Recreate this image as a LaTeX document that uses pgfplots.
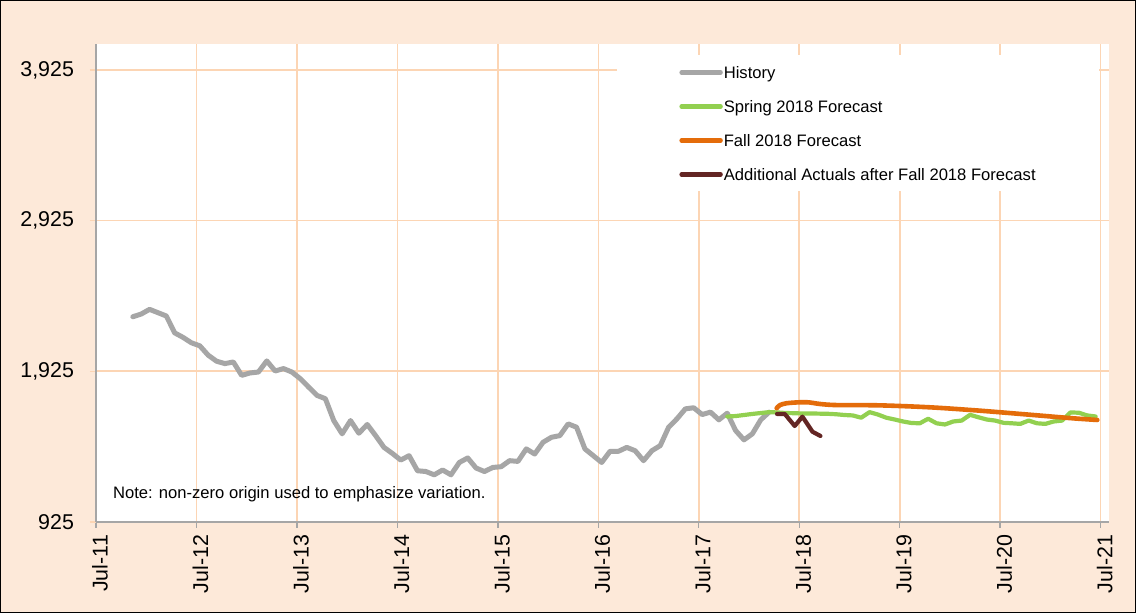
\documentclass[border=0pt]{standalone}
\usepackage{pgfplots}
\pgfplotsset{compat=1.18}
\usepackage{pgfplotstable}
\usepackage{fontspec}
\setmainfont{Liberation Sans}
\definecolor{peachbg}{RGB}{253,233,217}
\definecolor{gridc}{RGB}{252,213,180}
\definecolor{axgray}{RGB}{166,166,166}
\definecolor{histc}{RGB}{166,166,166}
\definecolor{springc}{RGB}{146,208,80}
\definecolor{fallc}{RGB}{228,108,10}
\definecolor{actc}{RGB}{99,37,35}

\pgfplotstableread{
x y
4.4 2287
5.4 2305
6.4 2336
7.4 2314
8.4 2292
9.4 2180
10.4 2150
11.4 2114
12.4 2094
13.4 2032
14.4 1992
15.4 1976
16.4 1987
17.4 1898
18.4 1914
19.4 1920
20.4 1994
21.4 1927
22.4 1943
23.4 1920
24.4 1876
25.4 1820
26.4 1765
27.4 1743
28.4 1598
29.4 1510
30.4 1598
31.4 1514
32.4 1572
33.4 1498
34.4 1420
35.4 1380
36.4 1336
37.4 1365
38.4 1265
39.4 1260
40.4 1238
41.4 1270
42.4 1238
43.4 1320
44.4 1350
45.4 1283
46.4 1260
47.4 1287
48.4 1292
49.4 1332
50.4 1327
51.4 1410
52.4 1376
53.4 1454
54.4 1487
55.4 1498
56.4 1576
57.4 1554
58.4 1410
59.4 1365
60.4 1320
61.4 1394
62.4 1394
63.4 1420
64.4 1398
65.4 1332
66.4 1398
67.4 1432
68.4 1554
69.4 1610
70.4 1676
71.4 1683
72.4 1638
73.4 1654
74.4 1603
75.4 1647
76.4 1532
77.4 1470
78.4 1510
79.4 1603
80.4 1654
}\histtab

\pgfplotstableread{
x y
75.4 1625
76.4 1628
77.4 1635
78.4 1642
79.4 1648
80.4 1654
81.4 1652
82.4 1648
83.4 1647
84.4 1645
85.4 1645
86.4 1644
87.4 1643
88.4 1640
89.4 1635
90.4 1632
91.4 1617
92.4 1654
93.4 1638
94.4 1617
95.4 1605
96.4 1592
97.4 1582
98.4 1580
99.4 1610
100.4 1580
101.4 1572
102.4 1592
103.4 1598
104.4 1636
105.4 1620
106.4 1605
107.4 1598
108.4 1583
109.4 1580
110.4 1576
111.4 1598
112.4 1580
113.4 1576
114.4 1592
115.4 1598
116.4 1652
117.4 1650
118.4 1632
119.4 1625
}\springtab

\pgfplotstableread{
x y
81.3 1680
81.7 1701
82.5 1713
83.9 1719
85.1 1719
86.5 1708
88.4 1701
93.6 1699
99.6 1686
105.5 1664
111.5 1637
116.7 1613
119.6 1602
}\falltab

\pgfplotstableread{
x y
81.35 1642
82.27 1642
83.46 1562
84.38 1624
85.58 1524
86.53 1496
}\acttab

\begin{document}
\begin{tikzpicture}
\fill[peachbg] (-48pt,-45.5pt) rectangle (520pt,261pt);
\useasboundingbox (-48pt,-45.5pt) rectangle (520pt,261pt);
\draw[black, line width=0.6pt] (-47.7pt,-45.2pt) rectangle (519.7pt,260.7pt);
\begin{axis}[
  at={(0pt,0pt)}, anchor=south west,
  scale only axis,
  width=506.5pt, height=239pt,
  xmin=0, xmax=121,
  ymin=925, ymax=4097,
  axis background/.style={fill=white},
  axis x line*=bottom, axis y line*=left,
  axis line style={axgray, line width=0.7pt},
  xtick={0,12,...,120},
  xticklabels={Jul-11,Jul-12,Jul-13,Jul-14,Jul-15,Jul-16,Jul-17,Jul-18,Jul-19,Jul-20,Jul-21},
  ytick={925,1925,2925,3925},
  tick align=outside,
  major tick length=3pt,
  x tick style={axgray, line width=0.7pt},
  y tick style={gridc, line width=0.7pt},
  xmajorgrids, ymajorgrids,
  major grid style={gridc, line width=0.8pt},
  /pgf/number format/.cd, 1000 sep={,}, assume math mode=true,
  /pgfplots/.cd,
  ticklabel style={font=\fontsize{10.7}{12}\selectfont, text=black},
  yticklabel style={xshift=-4.5pt},
  xticklabel style={rotate=90, anchor=east, yshift=-2pt},
  legend style={
    at={(260.5pt,233.5pt)}, anchor=north west,
    draw=none, fill=white,
    font=\fontsize{8.3}{10}\selectfont,
    inner xsep=31pt, inner ysep=0pt,
    nodes={inner xsep=0.5pt, inner ysep=0pt, text height=11.6pt, text depth=5.4pt},
    row sep=0pt,
    /tikz/every odd column/.append style={column sep=0pt},
  },
  legend cell align=left,
  legend image code/.code={\draw[#1, line width=2.2pt] (0pt,0pt) -- (19.5pt,0pt);},
  clip=false,
]
\addplot[histc, line width=2.5pt, line join=round, line cap=round] table {\histtab};
\addlegendentry{History}
\addplot[springc, line width=2.1pt, line join=round, line cap=round] table {\springtab};
\addlegendentry{Spring 2018 Forecast}
\addplot[fallc, line width=2.3pt, line join=round, line cap=round, smooth] table {\falltab};
\addlegendentry{Fall 2018 Forecast}
\addplot[actc, line width=2.1pt, line join=round, line cap=round] table {\acttab};
\addlegendentry{Additional Actuals after Fall 2018 Forecast}
\node[anchor=base west, inner sep=0pt, font=\fontsize{8.3}{10}\selectfont] at (axis cs:2,1078) {Note: non-zero origin used to emphasize variation.};
\end{axis}
\end{tikzpicture}
\end{document}
